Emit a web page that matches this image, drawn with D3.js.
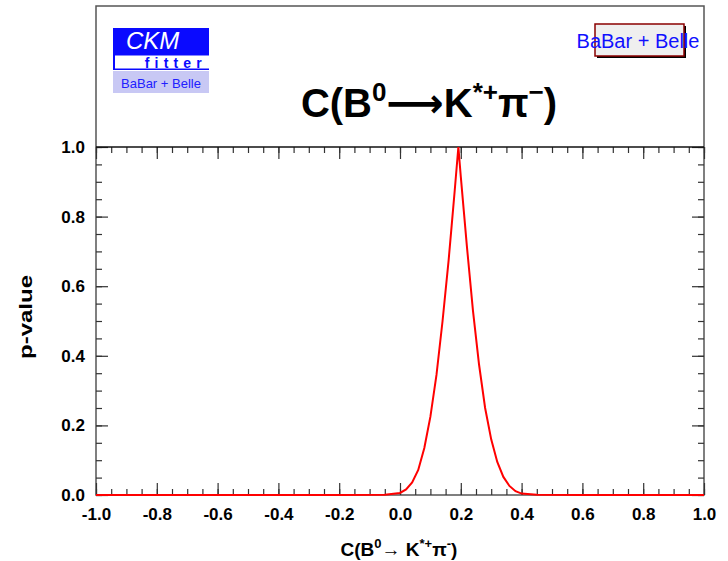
<!DOCTYPE html>
<html lang="en">
<head>
    <meta charset="UTF-8">
    <title>C(B0 -> K*+ pi-) p-value scan</title>
    <script src="https://d3js.org/d3.v7.min.js"></script>
    <style>
        body { margin: 0; background: #fff; }
        svg { display: block; font-family: "Liberation Sans", Arial, Helvetica, sans-serif; }
        .ticklabel { font-size: 17px; font-weight: bold; fill: #000; }
        .axis-title { font-size: 19px; font-weight: bold; }
    </style>
</head>
<body>
    <div id="chart"></div>

    <script>
        // scan of C(B0 -> K*+ pi-)
        const cValues = [-1.0, -0.5, -0.2, -0.05, 0.0, 0.02, 0.04, 0.06, 0.08, 0.10, 0.12, 0.14, 0.16, 0.17, 0.18, 0.192,
                         0.20, 0.21, 0.22, 0.24, 0.26, 0.28, 0.30, 0.32, 0.34, 0.36, 0.38, 0.40, 0.45, 0.6, 1.0];
        const pValues = [0, 0, 0, 0.001, 0.006, 0.016, 0.036, 0.072, 0.135, 0.225, 0.345, 0.50, 0.675, 0.775, 0.875, 1.0,
                         0.915, 0.815, 0.715, 0.53, 0.375, 0.25, 0.16, 0.095, 0.052, 0.026, 0.011, 0.004, 0.0005, 0, 0];

        const xTicks = [-1.0, -0.8, -0.6, -0.4, -0.2, 0.0, 0.2, 0.4, 0.6, 0.8, 1.0];
        const xTickLabels = ["-1.0", "-0.8", "-0.6", "-0.4", "-0.2", "0.0", "0.2", "0.4", "0.6", "0.8", "1.0"];
        const yTicks = [0.0, 0.2, 0.4, 0.6, 0.8, 1.0];
        const yTickLabels = ["0.0", "0.2", "0.4", "0.6", "0.8", "1.0"];

        const W = 728, H = 561;
        const plotL = 96, plotR = 704, plotT = 147, plotB = 495, frameT = 6;

        const svg = d3.select("#chart").append("svg")
            .attr("width", W)
            .attr("height", H);

        const x = d3.scaleLinear().domain([-1, 1]).range([plotL, plotR]);
        const y = d3.scaleLinear().domain([0, 1]).range([plotB, plotT]);

        const minorX = d3.range(-20, 21).map(i => i * 0.05);
        const minorY = d3.range(0, 21).map(i => i * 0.05);

        // outer frame
        svg.append("rect")
            .attr("x", plotL).attr("y", frameT)
            .attr("width", plotR - plotL).attr("height", plotB - frameT)
            .attr("fill", "none").attr("stroke", "#555").attr("stroke-width", 1.5);

        function tickAxis(axis, transform) {
            const g = svg.append("g").attr("transform", transform).call(axis);
            g.select(".domain").remove();
            g.selectAll(".tick line").attr("stroke", "#333").attr("stroke-width", 1.2);
            return g;
        }

        // minor ticks
        tickAxis(d3.axisBottom(x).tickValues(minorX).tickSize(-6).tickFormat(""), `translate(0,${plotB})`);
        tickAxis(d3.axisTop(x).tickValues(minorX).tickSize(-6).tickFormat(""), `translate(0,${plotT})`);
        tickAxis(d3.axisLeft(y).tickValues(minorY).tickSize(-6).tickFormat(""), `translate(${plotL},0)`);
        tickAxis(d3.axisRight(y).tickValues(minorY).tickSize(-6).tickFormat(""), `translate(${plotR},0)`);

        // major ticks + labels
        const xAxis = tickAxis(d3.axisBottom(x).tickValues(xTicks).tickSize(-12).tickPadding(13)
            .tickFormat((d, i) => xTickLabels[i]), `translate(0,${plotB})`);
        xAxis.selectAll("text").attr("class", "ticklabel").attr("font-size", null).attr("font-family", null);
        tickAxis(d3.axisTop(x).tickValues(xTicks).tickSize(-12).tickFormat(""), `translate(0,${plotT})`);
        const yAxis = tickAxis(d3.axisLeft(y).tickValues(yTicks).tickSize(-12).tickPadding(11)
            .tickFormat((d, i) => yTickLabels[i]), `translate(${plotL},0)`);
        yAxis.selectAll("text").attr("class", "ticklabel").attr("font-size", null).attr("font-family", null);
        tickAxis(d3.axisRight(y).tickValues(yTicks).tickSize(-12).tickFormat(""), `translate(${plotR},0)`);

        // line between header and plot
        svg.append("line")
            .attr("x1", plotL).attr("x2", plotR).attr("y1", plotT).attr("y2", plotT)
            .attr("stroke", "#111").attr("stroke-width", 1.5);

        // curve
        const pts = cValues.map((c, i) => [c, pValues[i]]);
        svg.append("path")
            .datum(pts)
            .attr("fill", "none")
            .attr("stroke", "#ff0000")
            .attr("stroke-width", 2)
            .attr("d", d3.line().x(d => x(d[0])).y(d => y(d[1])));

        // axis titles
        svg.append("text")
            .attr("class", "axis-title")
            .attr("transform", "translate(32,317) rotate(-90)")
            .attr("text-anchor", "middle")
            .attr("textLength", 84)
            .attr("lengthAdjust", "spacingAndGlyphs")
            .text("p-value");

        const xt = svg.append("text")
            .attr("class", "axis-title")
            .attr("x", 399).attr("y", 556)
            .attr("text-anchor", "middle");
        xt.append("tspan").text("C(B");
        xt.append("tspan").attr("dy", -8).attr("font-size", 13).text("0");
        xt.append("tspan").attr("dy", 8).text("\u2192 K");
        xt.append("tspan").attr("dy", -8).attr("font-size", 13).text("*+");
        xt.append("tspan").attr("dy", 8).text("\u03c0");
        xt.append("tspan").attr("dy", -8).attr("font-size", 13).text("-");
        xt.append("tspan").attr("dy", 8).text(")");

        // plot title
        const tt = svg.append("text")
            .attr("x", 429).attr("y", 117)
            .attr("text-anchor", "middle")
            .attr("font-size", 40).attr("font-weight", "bold");
        tt.append("tspan").text("C(B");
        tt.append("tspan").attr("dy", -16).attr("font-size", 26).text("0");
        tt.append("tspan").attr("dy", 16).attr("font-family", "DejaVu Sans").text("\u27f6");
        tt.append("tspan").text("K");
        tt.append("tspan").attr("dy", -16).attr("font-size", 26).text("*+");
        tt.append("tspan").attr("dy", 16).text("\u03c0");
        tt.append("tspan").attr("dy", -16).attr("font-size", 26).text("\u2212");
        tt.append("tspan").attr("dy", 16).text(")");

        // CKMfitter logo
        const logo = svg.append("g");
        logo.append("rect").attr("x", 113).attr("y", 28).attr("width", 96).attr("height", 42).attr("fill", "#0a0aff");
        logo.append("rect").attr("x", 115).attr("y", 55.5).attr("width", 94).attr("height", 13).attr("fill", "#fff");
        logo.append("rect").attr("x", 113).attr("y", 71).attr("width", 96).attr("height", 22).attr("fill", "#c8c8f4");
        logo.append("text").attr("x", 126).attr("y", 49)
            .attr("font-size", 24).attr("font-style", "italic").attr("fill", "#fff").text("CKM");
        logo.append("text").attr("x", 207).attr("y", 68).attr("text-anchor", "end")
            .attr("font-size", 14).attr("font-weight", "bold").attr("letter-spacing", 5.2)
            .attr("fill", "#0a0aff").text("fitter");
        logo.append("text").attr("x", 161).attr("y", 88).attr("text-anchor", "middle")
            .attr("font-size", 13).attr("fill", "#2020ff").text("BaBar + Belle");

        // legend
        const leg = svg.append("g");
        leg.append("rect").attr("x", 597).attr("y", 26).attr("width", 89).attr("height", 32).attr("fill", "#000");
        leg.append("rect").attr("x", 595).attr("y", 24).attr("width", 89).attr("height", 32)
            .attr("fill", "#efefef").attr("stroke", "#8b0000").attr("stroke-width", 1.5);
        leg.append("text").attr("x", 638).attr("y", 48).attr("text-anchor", "middle")
            .attr("font-size", 20).attr("fill", "#1010ff").text("BaBar + Belle");
    </script>
</body>
</html>
